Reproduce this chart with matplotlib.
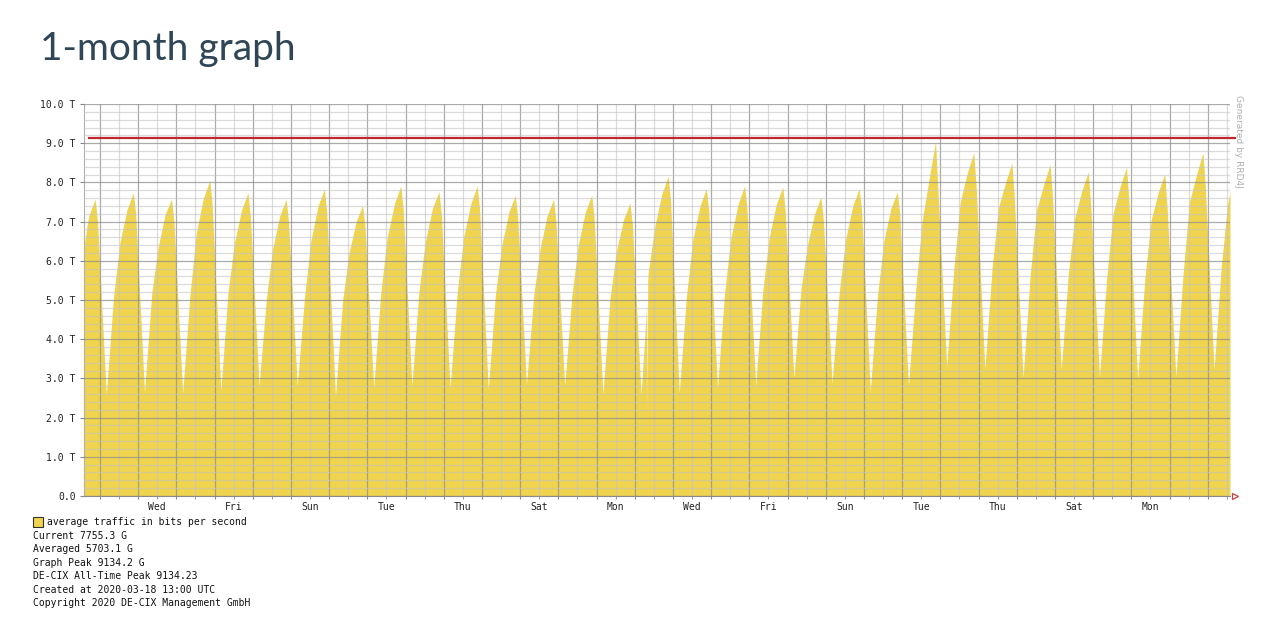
import numpy as np
import pandas as pd
import matplotlib
matplotlib.use('Agg')
import matplotlib.pyplot as plt
import matplotlib.dates as mdates
from matplotlib.ticker import MultipleLocator, FuncFormatter, NullFormatter

# one value per calendar day, Feb 17 .. Mar 18 2020 (Tbit/s)
days = pd.date_range('2020-02-17', '2020-03-18', freq='D')

trough = [np.nan, 2.59, 2.65, 2.62, 2.70, 2.81, 2.81, 2.55, 2.76, 2.81, 2.76, 2.72, 2.85,
          2.81, 2.59, 2.59, 2.64, 2.76, 2.81, 3.02, 2.89, 2.68, 2.81, 3.32, 3.23, 3.02,
          3.23, 3.04, 2.98, 3.04, 3.23]
morning = [np.nan, 5.05, 5.14, 5.10, 5.20, 5.00, 5.05, 5.00, 5.20, 5.25, 5.20, 5.15, 5.10,
           5.10, 5.05, 5.70, 5.10, 5.20, 5.25, 5.30, 5.20, 5.10, 5.25, 5.80, 5.80, 5.65,
           5.70, 5.55, 5.55, 5.65, 5.85]
noon = [np.nan, 6.45, 6.33, 6.70, 6.45, 6.30, 6.50, 6.20, 6.60, 6.50, 6.60, 6.40, 6.30,
        6.40, 6.25, 6.85, 6.55, 6.60, 6.60, 6.40, 6.55, 6.50, 7.00, 7.50, 7.35, 7.30,
        7.10, 7.20, 7.05, 7.50, 7.45]
afternoon = [7.15, 7.30, 7.19, 7.60, 7.30, 7.15, 7.40, 7.00, 7.45, 7.35, 7.45, 7.25, 7.15,
             7.25, 7.05, 7.70, 7.40, 7.45, 7.45, 7.20, 7.40, 7.35, 8.10, 8.25, 8.00, 7.95,
             7.80, 7.90, 7.75, 8.20, np.nan]
peak = [7.57, 7.74, 7.57, 8.05, 7.74, 7.57, 7.82, 7.42, 7.91, 7.76, 7.91, 7.67, 7.57,
        7.68, 7.48, 8.16, 7.84, 7.91, 7.88, 7.63, 7.84, 7.76, 9.05, 8.76, 8.50, 8.46,
        8.27, 8.39, 8.22, 8.76, np.nan]
evening = [7.00, 7.19, 7.00, 7.45, 7.15, 7.00, 7.25, 6.90, 7.35, 7.20, 7.35, 7.10, 7.00,
           7.10, 6.95, 7.55, 7.30, 7.35, 7.30, 7.05, 7.30, 7.20, 7.80, 7.90, 7.60, 7.60,
           7.40, 7.50, 7.35, 7.90, np.nan]
# hour of day each of the lists above belongs to
hours = [4.0, 8.5, 12.5, 17.0, 21.0, 22.5]

# graph window and the short outage on the morning of Mar 3
start_time, start_value = '2020-02-17 14:00', 6.40
end_time, end_value = '2020-03-18 14:00', 7.7553
glitch_times = ['2020-03-03 07:30', '2020-03-03 07:50', '2020-03-03 08:10']
glitch_values = [4.85, 2.22, 5.50]

all_time_peak = 9.13423

tick_dates = pd.date_range('2020-02-19 12:00', periods=14, freq='2D')
tick_labels = ['Wed', 'Fri', 'Sun', 'Tue', 'Thu', 'Sat', 'Mon',
               'Wed', 'Fri', 'Sun', 'Tue', 'Thu', 'Sat', 'Mon']

legend_lines = ['Current 7755.3 G',
                'Averaged 5703.1 G',
                'Graph Peak 9134.2 G',
                'DE-CIX All-Time Peak 9134.23',
                'Created at 2020-03-18 13:00 UTC',
                'Copyright 2020 DE-CIX Management GmbH']

# build the traffic series
parts = [pd.Series([start_value, end_value], index=pd.to_datetime([start_time, end_time])),
         pd.Series(glitch_values, index=pd.to_datetime(glitch_times))]
for vals, h in zip([trough, morning, noon, afternoon, peak, evening], hours):
    parts.append(pd.Series(vals, index=days + pd.to_timedelta(h, unit='h')))
traffic = pd.concat(parts).sort_index().dropna()

W, H = 1280, 628
fig = plt.figure(figsize=(W / 100, H / 100), dpi=100)
ax = fig.add_axes([84 / W, 1 - 496 / H, 1146 / W, 392 / H])

ax.fill_between(traffic.index, 0, traffic.values, color='#F0D44E', lw=0, zorder=1)
ax.axhline(all_time_peak, xmin=0.004, xmax=1.004, color='#C0282D', lw=1.6,
           zorder=4, clip_on=False)

ax.set_xlim(pd.Timestamp(start_time), pd.Timestamp(end_time))
ax.set_ylim(0, 10)

# grid on top of the area, like rrd does
ax.set_axisbelow(False)
ax.xaxis.set_major_locator(mdates.HourLocator(byhour=[0]))
ax.xaxis.set_minor_locator(mdates.HourLocator(byhour=[12]))
ax.yaxis.set_major_locator(MultipleLocator(1))
ax.yaxis.set_minor_locator(MultipleLocator(0.2))
ax.grid(which='major', color='#8f8f8f', alpha=0.75, lw=0.9)
ax.grid(which='minor', color='#c4c4c4', alpha=0.6, lw=0.9)

label_map = {d.strftime('%Y-%m-%d %H'): l for d, l in zip(tick_dates, tick_labels)}


def day_label(x, pos):
    d = mdates.num2date(x).replace(tzinfo=None) + pd.Timedelta(minutes=30)
    return label_map.get(d.strftime('%Y-%m-%d %H'), '')


ax.xaxis.set_major_formatter(NullFormatter())
ax.xaxis.set_minor_formatter(FuncFormatter(day_label))
ax.yaxis.set_major_formatter(FuncFormatter(lambda v, p: '0.0' if v == 0 else f'{v:.1f} T'))

mono = 'DejaVu Sans Mono'
ax.tick_params(axis='x', which='both', length=2, color='#888888', pad=2,
               labelsize=7, labelcolor='#222222')
ax.tick_params(axis='y', which='major', length=3, color='#888888', pad=3,
               labelsize=7, labelcolor='#222222')
ax.tick_params(axis='y', which='minor', length=0)
for lab in ax.get_xticklabels(which='both') + ax.get_yticklabels():
    lab.set_family(mono)

for side in ['top', 'right']:
    ax.spines[side].set_visible(False)
ax.spines['left'].set_color('#b0b0b0')
ax.spines['left'].set_linewidth(0.8)
ax.spines['bottom'].set_color('#8a8a8a')
ax.spines['bottom'].set_linewidth(0.8)
ax.plot([1.004], [0], marker='>', ms=5, mfc='white', mec='#D04040', mew=0.9,
        transform=ax.transAxes, clip_on=False)

# title
fig.text(40 / W, 1 - 60 / H, '1-month graph', fontsize=28, family='Lato',
         color='#2E4656', va='baseline', ha='left')

fig.text(1238 / W, 1 - 95 / H, 'Generated by RRD4J', rotation=-90, fontsize=6.5,
         color='#b0b0b0', va='top', ha='center')

# legend and stats block under the graph
fig.patches.append(plt.Rectangle((33 / W, 1 - 527 / H), 10 / W, 10 / H,
                                 transform=fig.transFigure, facecolor='#F0D44E',
                                 edgecolor='#333333', lw=0.8))
fig.text(47 / W, 1 - 522 / H, 'average traffic in bits per second', family=mono,
         fontsize=7, color='#111111', va='center')
for i, line in enumerate(legend_lines):
    fig.text(33 / W, 1 - (536 + i * 13.4) / H, line, family=mono, fontsize=7,
             color='#111111', va='center')

fig.savefig('out.png', dpi=100, facecolor='white')
